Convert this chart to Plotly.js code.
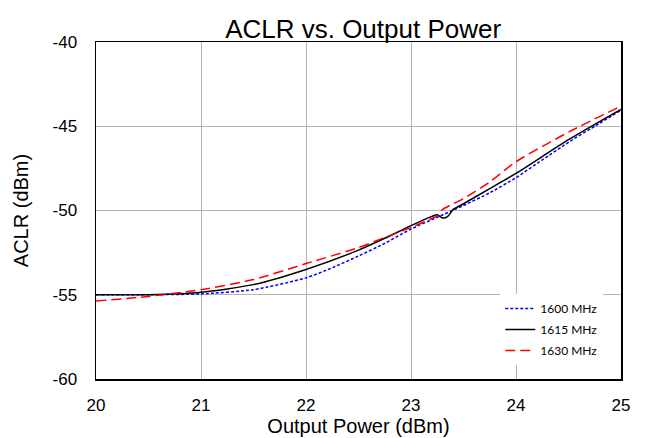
<!DOCTYPE html>
<html>
<head>
<meta charset="utf-8">
<script src="https://cdn.plot.ly/plotly-3.0.1.min.js"></script>
<style>html,body{margin:0;padding:0;background:#fff;}#chart{width:645px;height:438px;}</style>
</head>
<body>
<div id="chart"></div>
<script>
// Output power (dBm) and ACLR (dBm) per frequency
const x1600 = [20, 20.5, 21, 21.5, 22, 22.25, 22.5, 22.75, 23, 23.25, 23.5, 23.75, 24, 24.25, 24.5, 24.75, 25];
const aclr1600 = [-55.0, -55.0, -54.95, -54.7, -54.0, -53.4, -52.7, -51.95, -51.1, -50.4, -49.7, -48.95, -48.05, -47.0, -45.95, -45.0, -44.05];

const x1615 = [20, 20.5, 21, 21.5, 22, 22.5, 22.75, 23, 23.2, 23.25, 23.3, 23.35, 23.4, 23.5, 23.75, 24, 24.5, 25];
const aclr1615 = [-55.0, -55.0, -54.85, -54.4, -53.5, -52.35, -51.65, -50.9, -50.35, -50.25, -50.45, -50.35, -49.95, -49.6, -48.7, -47.8, -45.8, -44.0];

const x1630 = [20, 20.5, 21, 21.5, 22, 22.5, 22.75, 23, 23.25, 23.3, 23.4, 23.5, 23.75, 24, 24.5, 25];
const aclr1630 = [-55.37, -55.1, -54.7, -54.1, -53.15, -52.2, -51.6, -51.0, -50.3, -49.95, -49.6, -49.3, -48.3, -47.1, -45.35, -43.8];

const seriesNames = ['1600 MHz', '1615 MHz', '1630 MHz'];
const xTicks = [20, 21, 22, 23, 24, 25];
const yTicks = [-60, -55, -50, -45, -40];

const traces = [
  {x: x1600, y: aclr1600, name: seriesNames[0], legendgroup: 'a', mode: 'lines',
   line: {color: '#0000ff', width: 1.5, dash: '3px,2px', shape: 'spline', smoothing: 0.6}},
  {x: x1615, y: aclr1615, name: seriesNames[1], legendgroup: 'b', mode: 'lines',
   line: {color: '#000000', width: 1.5, shape: 'spline', smoothing: 0.6}},
  {x: x1630, y: aclr1630, name: seriesNames[2], legendgroup: 'c', mode: 'lines',
   line: {color: '#ff0000', width: 1.5, dash: '10px,5px', shape: 'spline', smoothing: 0.6}}
];

const layout = {
  width: 645, height: 438,
  margin: {l: 96, r: 24, t: 42, b: 59},
  paper_bgcolor: '#ffffff', plot_bgcolor: '#ffffff',
  font: {family: 'Liberation Sans, Arial, sans-serif', color: '#000000'},
  title: {text: 'ACLR vs. Output Power', font: {size: 26, color: '#000000'},
          x: 0.563, xanchor: 'center', y: 0.935, yanchor: 'middle'},
  xaxis: {
    range: [20, 25], tickvals: xTicks, ticktext: xTicks.map(String),
    showgrid: true, gridcolor: '#b3b3b3', gridwidth: 1,
    showline: true, linecolor: '#000000', linewidth: 1.5, mirror: true,
    ticks: '', ticklabelstandoff: 10, zeroline: false,
    tickfont: {size: 17},
    title: {text: 'Output Power (dBm)', font: {size: 20}, standoff: 3}
  },
  yaxis: {
    range: [-60, -40], tickvals: yTicks, ticktext: yTicks.map(String),
    showgrid: true, gridcolor: '#b3b3b3', gridwidth: 1,
    showline: true, linecolor: '#000000', linewidth: 1.5, mirror: true,
    ticks: '', ticklabelstandoff: 14, zeroline: false,
    tickfont: {size: 17},
    title: {text: 'ACLR (dBm)', font: {size: 20}, standoff: 18}
  },
  showlegend: true,
  legend: {
    x: 0.77, xanchor: 'left', y: 0.252, yanchor: 'top',
    bgcolor: '#ffffff', borderwidth: 0,
    font: {family: 'Lato, Open Sans, sans-serif', size: 12, color: '#000000'},
    traceorder: 'grouped', tracegroupgap: 2
  }
};

Plotly.newPlot('chart', traces, layout, {displayModeBar: false, staticPlot: true});
</script>
</body>
</html>
